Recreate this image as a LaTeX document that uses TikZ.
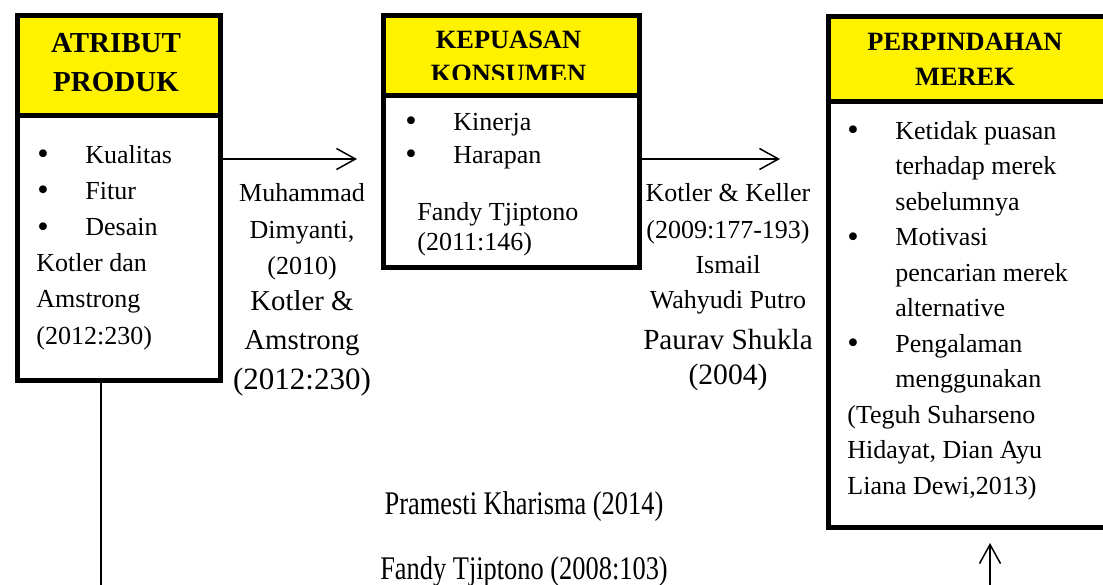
\documentclass[tikz,border=0pt]{standalone}
\usepackage{fontspec}
\usepackage{graphicx}
\setmainfont{Liberation Serif}
\usetikzlibrary{arrows.meta}
\newcommand\bul{\makebox[24pt][l]{\raisebox{-0.8pt}{\scalebox{1.25}{\textbullet}}}}
\newcommand\ind{\hspace*{24pt}}
\begin{document}
\begin{tikzpicture}[x=0.5pt,y=-0.5pt,
  hdr/.style={draw,line width=2.5pt,fill=yellow,anchor=north west,inner sep=0pt},
  bodybox/.style={draw,line width=2.5pt,fill=white,anchor=north west,inner sep=0pt},
  txt/.style={inner sep=0pt,anchor=base west,font=\fontsize{13}{15}\selectfont},
  ctxt/.style={inner sep=0pt,anchor=base,font=\fontsize{13}{15}\selectfont},
  big/.style={inner sep=0pt,anchor=base,font=\fontsize{14.4}{17}\selectfont},
  htxt/.style={inner sep=0pt,anchor=base,font=\bfseries\fontsize{13.2}{15}\selectfont},
  cond/.style={inner sep=0pt,anchor=base,font=\fontsize{16.5}{19}\selectfont},
  conn/.style={line width=0.75pt,-{Straight Barb[length=9.5pt,width=10.5pt,line width=0.75pt]}},
  link/.style={line width=0.75pt}]
\useasboundingbox (0,0) rectangle (1103,584);
\clip (0,0) rectangle (1103,584);

% ---- Box A : ATRIBUT PRODUK
\node[hdr,minimum width=101.5pt,minimum height=50pt] (hA) at (14.5,12.5) {};
\node[htxt,font=\bfseries\fontsize{14.5}{17}\selectfont] (hA1) at (116,52.6) {ATRIBUT};
\node[htxt,font=\bfseries\fontsize{14.5}{17}\selectfont] (hA2) at (116,91.6) {PRODUK};
\node[bodybox,minimum width=101.5pt,minimum height=132.75pt] (bA) at (14.5,112.5) {};
\node[txt] (tA1) at (37,163) {\bul Kualitas};
\node[txt] (tA2) at (37,199.2) {\bul Fitur};
\node[txt] (tA3) at (37,235.4) {\bul Desain};
\node[txt] (tA4) at (36,271.6) {Kotler dan};
\node[txt] (tA5) at (36,307.8) {Amstrong};
\node[txt] (tA6) at (36,344) {(2012:230)};

% ---- Box B : KEPUASAN KONSUMEN
\node[hdr,minimum width=128pt,minimum height=40.25pt] (hB) at (380.5,12.5) {};
\node[htxt] (hB1) at (508.5,48.6) {KEPUASAN};
\begin{scope}
\clip (380.5,12.5) rectangle (636.5,79.5);
\node[htxt] (hB2) at (508.5,82) {KONSUMEN};
\end{scope}
\node[bodybox,minimum width=128pt,minimum height=86pt] (bB) at (380.5,93) {};
\node[txt] (tB1) at (405,130) {\bul Kinerja};
\node[txt] (tB2) at (405,163) {\bul Harapan};
\node[txt] (tB3) at (417,220) {Fandy Tjiptono};
\node[txt] (tB4) at (417,250) {(2011:146)};

% ---- Box C : PERPINDAHAN MEREK
\node[hdr,minimum width=144.75pt,minimum height=42.5pt] (hC) at (825.5,13.5) {};
\node[htxt] (hC1) at (965,50.7) {PERPINDAHAN};
\node[htxt] (hC2) at (965,85.7) {MEREK};
\node[bodybox,minimum width=144.75pt,minimum height=213pt] (bC) at (825.5,98.5) {};
\node[txt] (tC1) at (847,139) {\bul Ketidak puasan};
\node[txt] (tC2) at (847,174.5) {\ind terhadap merek};
\node[txt] (tC3) at (847,210) {\ind sebelumnya};
\node[txt] (tC4) at (847,245.5) {\bul Motivasi};
\node[txt] (tC5) at (847,281) {\ind pencarian merek};
\node[txt] (tC6) at (847,316.5) {\ind alternative};
\node[txt] (tC7) at (847,352) {\bul Pengalaman};
\node[txt] (tC8) at (847,387.5) {\ind menggunakan};
\node[txt] (tC9) at (847,423) {(Teguh Suharseno};
\node[txt] (tC10) at (847,458.5) {Hidayat, Dian Ayu};
\node[txt] (tC11) at (847,494) {Liana Dewi,2013)};

% ---- references between boxes
\node[ctxt] (m1) at (302,201) {Muhammad};
\node[ctxt] (m2) at (302,238) {Dimyanti,};
\node[ctxt] (m3) at (302,274) {(2010)};
\node[big] (m4) at (302,310) {Kotler \&};
\node[big] (m5) at (302,349) {Amstrong};
\node[big,font=\fontsize{15.5}{18}\selectfont] (m6) at (302,389) {(2012:230)};

\node[ctxt] (k1) at (728,201) {Kotler \& Keller};
\node[ctxt] (k2) at (728,238) {(2009:177-193)};
\node[ctxt] (k3) at (728,273) {Ismail};
\node[ctxt] (k4) at (728,308) {Wahyudi Putro};
\node[big,font=\fontsize{14.6}{17}\selectfont] (k5) at (728,349) {Paurav Shukla};
\node[big,font=\fontsize{14.8}{17}\selectfont] (k6) at (728,384) {(2004)};

\node[cond] (r1) at (524,514) {\scalebox{0.8}[1]{Pramesti Kharisma (2014)}};
\node[cond] (r2) at (524,579) {\scalebox{0.8}[1]{Fandy Tjiptono (2008:103)}};

% ---- connectors
\coordinate (a1e) at (357,159);
\draw[conn] (bA.east |- a1e) -- (a1e);
\coordinate (a2e) at (780,159);
\draw[conn] (bB.east |- a2e) -- (a2e);
\coordinate (vEnd) at (101,590);
\draw[link] (vEnd |- bA.south) -- (vEnd);
\coordinate (upS) at (990,590);
\coordinate (upT) at (990,543);
\draw[conn] (upS) -- (upT);
\end{tikzpicture}
\end{document}
